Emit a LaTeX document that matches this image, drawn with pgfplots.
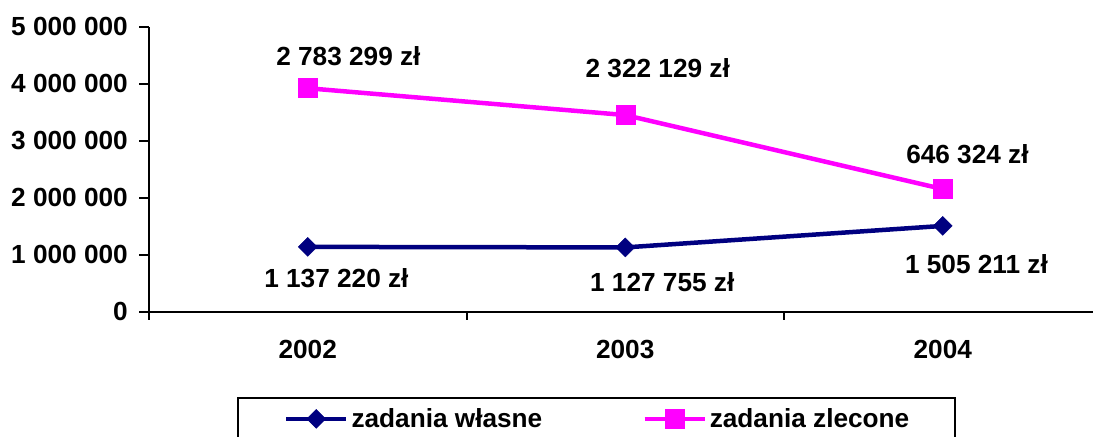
\documentclass[border=0pt]{standalone}
\usepackage{fontspec}
\setmainfont{Liberation Sans}
\usepackage{pgfplots}
\pgfplotsset{compat=1.18}
\definecolor{navyc}{RGB}{0,0,128}
\definecolor{mag}{RGB}{255,0,255}
\newcommand{\lf}{\bfseries\fontsize{26.3}{30}\selectfont}
\begin{document}
\begin{tikzpicture}
\useasboundingbox (0,0) rectangle (1093bp,437bp);
\begin{axis}[
  at={(149bp,125.3bp)}, anchor=south west,
  scale only axis, width=952.5bp, height=285bp,
  xmin=0, xmax=3, ymin=0, ymax=5000000,
  axis lines*=left,
  axis line style={line width=2bp, black},
  clip=false,
  stack plots=y,
  xtick={0.5,1.5,2.5}, xticklabels={2002,2003,2004},
  minor xtick={0,1,2,3},
  ytick={0,1000000,2000000,3000000,4000000,5000000},
  tick align=outside,
  major tick length=10bp,
  minor tick length=8bp,
  major x tick style={draw=none},
  minor x tick style={line width=2bp, black},
  ytick style={line width=2bp, black},
  every tick label/.append style={font=\lf, inner sep=0pt},
  xticklabel style={anchor=north, yshift=-18bp},
  yticklabel style={anchor=east, xshift=-11bp},
  scaled y ticks=false,
  /pgf/number format/fixed,
  /pgf/number format/1000 sep={\ },
  /pgf/number format/assume math mode=true,
  legend columns=2,
  legend style={at={(axis description cs:0.0924,-0.298)}, anchor=north west,
    draw=black, line width=2bp, font=\lf, inner xsep=46bp, inner ysep=11bp,
    nodes={inner sep=0pt},
    /tikz/every odd column/.append style={column sep=3bp},
    /tikz/every even column/.append style={column sep=100bp}},
  legend image code/.code={\draw[mark repeat=2,mark phase=2,#1] plot coordinates {(0bp,0bp) (30bp,0bp) (60bp,0bp)};},
]
\addplot[navyc, line width=4.5bp, mark=square*, mark size=6.7bp,
  mark options={rotate=45, line width=0.5bp, solid}]
  coordinates {(0.5,1137220) (1.5,1127755) (2.5,1505211)};
\addlegendentry{zadania własne}
\addplot[mag, line width=4.5bp, mark=square*, mark size=9.5bp,
  mark options={line width=0.5bp, solid}]
  coordinates {(0.5,2783299) (1.5,2322129) (2.5,646324)};
\addlegendentry{zadania zlecone}

\node[font=\lf, xshift=40.7bp, yshift=32.2bp] at (axis cs:0.5,3920519) {2 783 299 zł};
\node[font=\lf, xshift=32.5bp, yshift=46.6bp] at (axis cs:1.5,3449884) {2 322 129 zł};
\node[font=\lf, xshift=24.7bp, yshift=35.4bp] at (axis cs:2.5,2151535) {646 324 zł};
\node[font=\lf, xshift=28.7bp, yshift=-31.1bp] at (axis cs:0.5,1137220) {1 137 220 zł};
\node[font=\lf, xshift=37bp, yshift=-35.1bp] at (axis cs:1.5,1127755) {1 127 755 zł};
\node[font=\lf, xshift=33.7bp, yshift=-38.6bp] at (axis cs:2.5,1505211) {1 505 211 zł};
\end{axis}
\end{tikzpicture}
\end{document}
